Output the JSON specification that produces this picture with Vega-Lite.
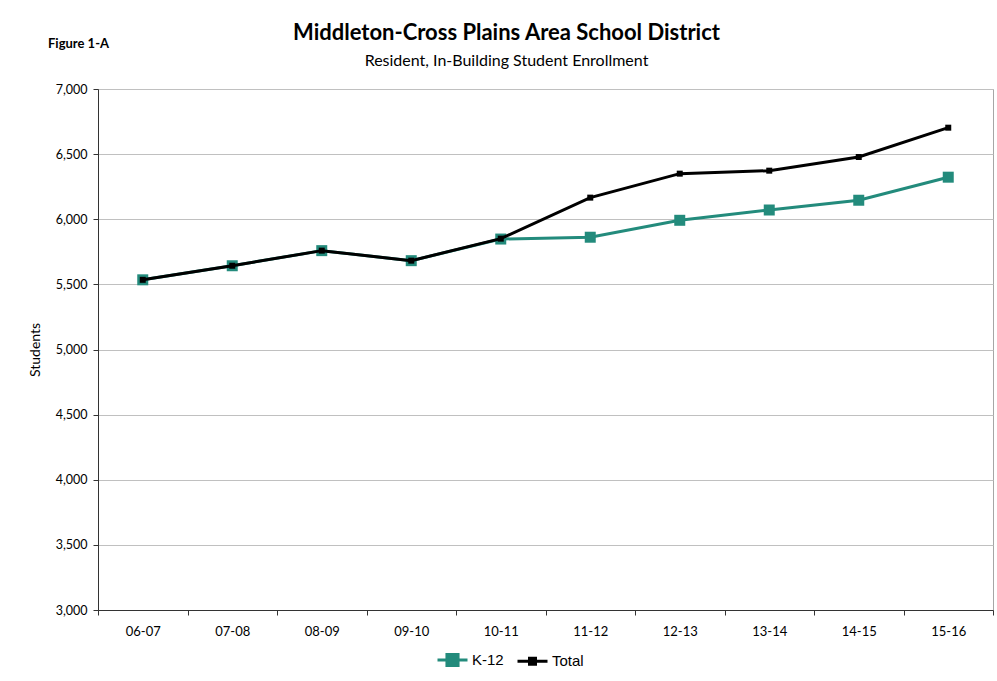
{
  "$schema": "https://vega.github.io/schema/vega-lite/v6.json",
  "autosize": "none",
  "width": 895,
  "height": 521,
  "padding": {"left": 98, "top": 89, "right": 4, "bottom": 71},
  "background": "white",
  "config": {
    "font": "Lato",
    "view": {"stroke": "#a6a6a6", "strokeWidth": 1},
    "axis": {"labelFont": "Lato", "titleFont": "Lato", "labelColor": "#000", "titleColor": "#000"}
  },
  "title": {
    "text": "Middleton-Cross Plains Area School District",
    "subtitle": "Resident, In-Building Student Enrollment",
    "anchor": "middle",
    "frame": "group",
    "dx": -39,
    "dy": 54,
    "font": "Lato",
    "fontSize": 22,
    "fontWeight": "bold",
    "color": "#000",
    "subtitleFont": "Lato",
    "subtitleFontSize": 16,
    "subtitleColor": "#000",
    "subtitlePadding": 8,
    "offset": 22
  },
  "data": {
    "values": [
      {"year": "06-07", "series": "K-12", "students": 5535},
      {"year": "07-08", "series": "K-12", "students": 5643},
      {"year": "08-09", "series": "K-12", "students": 5759},
      {"year": "09-10", "series": "K-12", "students": 5682},
      {"year": "10-11", "series": "K-12", "students": 5848},
      {"year": "11-12", "series": "K-12", "students": 5862},
      {"year": "12-13", "series": "K-12", "students": 5992},
      {"year": "13-14", "series": "K-12", "students": 6071},
      {"year": "14-15", "series": "K-12", "students": 6146},
      {"year": "15-16", "series": "K-12", "students": 6323},
      {"year": "06-07", "series": "Total", "students": 5535},
      {"year": "07-08", "series": "Total", "students": 5643},
      {"year": "08-09", "series": "Total", "students": 5759},
      {"year": "09-10", "series": "Total", "students": 5682},
      {"year": "10-11", "series": "Total", "students": 5851},
      {"year": "11-12", "series": "Total", "students": 6166},
      {"year": "12-13", "series": "Total", "students": 6350},
      {"year": "13-14", "series": "Total", "students": 6373},
      {"year": "14-15", "series": "Total", "students": 6478},
      {"year": "15-16", "series": "Total", "students": 6703}
    ]
  },
  "encoding": {
    "x": {
      "field": "year", "type": "ordinal", "title": null,
      "scale": {"paddingInner": 0, "paddingOuter": 0},
      "axis": {
        "labelAngle": 0, "labelFontSize": 13, "labelPadding": 10,
        "tickBand": "extent", "tickSize": 5, "tickColor": "#333", "domainColor": "#333",
        "grid": false
      }
    },
    "y": {
      "field": "students", "type": "quantitative", "title": "Students",
      "scale": {"domain": [3000, 7000], "nice": false, "zero": false},
      "axis": {
        "values": [3000, 3500, 4000, 4500, 5000, 5500, 6000, 6500, 7000],
        "format": ",d", "labelFontSize": 12.5, "labelPadding": 6,
        "tickSize": 5, "tickColor": "#333", "domainColor": "#333",
        "gridColor": "#c0c0c0", "titleFontSize": 14, "titleFontWeight": "normal",
        "titlePadding": 13
      }
    },
    "color": {
      "field": "series", "type": "nominal",
      "scale": {"domain": ["K-12", "Total"], "range": ["#238b7c", "#000000"]},
      "legend": {
        "title": null, "orient": "none", "direction": "horizontal",
        "legendX": 338, "legendY": 554,
        "labelFont": "Liberation Sans", "labelFontSize": 15, "labelColor": "#000",
        "symbolSize": 900, "symbolStrokeWidth": 3, "labelOffset": 3, "columnPadding": 7,
        "encode": {
          "symbols": {
            "update": {
              "shape": {"signal": "datum.value === 'K-12' ? 'M-1,0H1M-0.37,-0.37H0.37V0.37H-0.37Z' : 'M-1,0H1M-0.2,-0.2H0.2V0.2H-0.2Z'"},
              "fill": {"scale": "color", "field": "value"},
              "stroke": {"scale": "color", "field": "value"},
              "strokeWidth": {"value": 3}
            }
          }
        }
      }
    }
  },
  "layer": [
    {
      "transform": [{"filter": "datum.series === 'K-12'"}],
      "mark": {"type": "line", "strokeWidth": 3, "point": {"shape": "square", "size": 121, "filled": true, "opacity": 1}}
    },
    {
      "transform": [{"filter": "datum.series === 'Total'"}],
      "mark": {"type": "line", "strokeWidth": 3, "point": {"shape": "square", "size": 36, "filled": true, "opacity": 1}}
    },
    {
      "data": {"values": [{"label": "Figure 1-A"}]},
      "mark": {"type": "text", "align": "left", "baseline": "middle", "font": "Lato", "fontSize": 13, "fontWeight": "bold", "color": "#000"},
      "encoding": {
        "x": {"value": -50},
        "y": {"value": -45},
        "text": {"field": "label"},
        "color": null
      }
    }
  ]
}
